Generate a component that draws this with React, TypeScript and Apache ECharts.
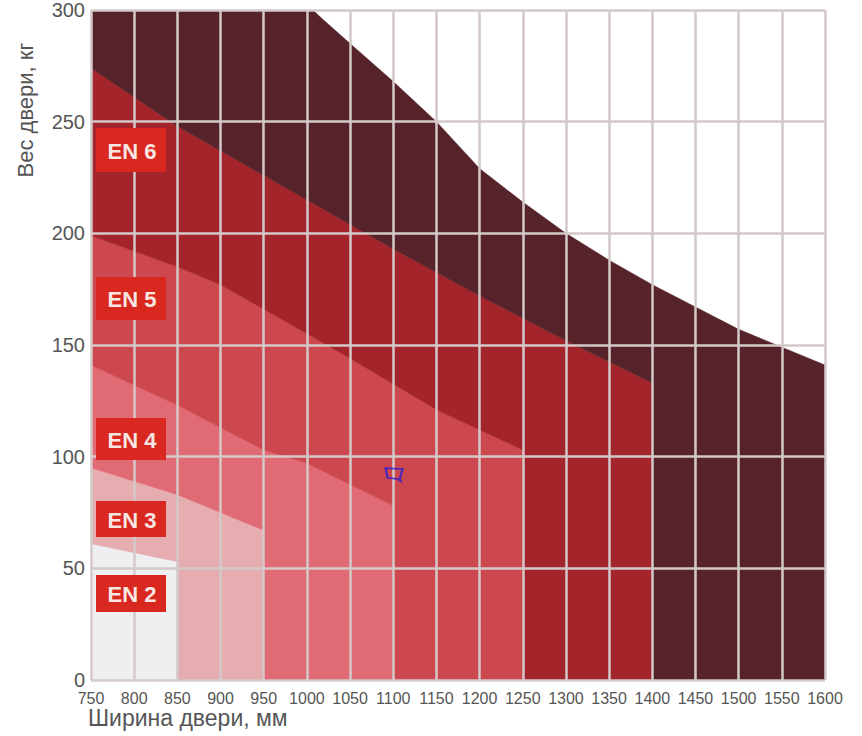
import React, { useEffect, useRef } from "react";
import * as echarts from "echarts";

// X ticks (door width, mm) and Y ticks (door weight, kg)
const xTicks = [750, 800, 850, 900, 950, 1000, 1050, 1100, 1150, 1200, 1250, 1300, 1350, 1400, 1450, 1500, 1550, 1600];
const yTicks = [0, 50, 100, 150, 200, 250, 300];

// Upper boundary of each class zone, [width, weight]
const en2Top = [[750, 61], [850, 53]];
const en3Top = [[750, 95], [850, 83], [950, 67]];
const en4Top = [[750, 141], [850, 123], [950, 103], [1000, 97], [1100, 78]];
const en5Top = [[750, 199], [850, 185], [900, 177], [950, 166], [1000, 155], [1050, 144], [1150, 121], [1250, 103]];
const en6Top = [[750, 274], [850, 248], [950, 226], [1050, 204], [1100, 193], [1200, 172], [1300, 152], [1400, 133]];
const en7Top = [[750, 300], [1007, 300], [1018, 296], [1050, 285], [1100, 268], [1150, 250], [1200, 229], [1250, 214], [1300, 200], [1350, 188], [1400, 177], [1450, 167], [1500, 157], [1550, 149], [1600, 141]];

const zoneNames = ["EN 2", "EN 3", "EN 4", "EN 5", "EN 6", "EN 7"];
const zoneTops = [en2Top, en3Top, en4Top, en5Top, en6Top, en7Top];
const zoneColors = ["#efeff1", "#e6adb1", "#e16b74", "#cd474e", "#a3252b", "#56232a"];

// Label boxes shown on the left
const boxLabels = ["EN 6", "EN 5", "EN 4", "EN 3", "EN 2"];

// Blue hand-drawn marker
const marker = [[1101, 92]];

function buildPolygons(): number[][][] {
  const polys: number[][][] = [];
  let prev: number[][] = [[750, 0]];
  zoneTops.forEach((top) => {
    const prevEnd = prev[prev.length - 1][0];
    const end = top[top.length - 1][0];
    const pts: number[][] = [];
    prev.forEach((p) => pts.push(p));
    pts.push([prevEnd, 0]);
    pts.push([end, 0]);
    for (let i = top.length - 1; i >= 0; i--) pts.push(top[i]);
    polys.push(pts);
    prev = top;
  });
  return polys;
}

const FONT = "'Liberation Sans', Arial, sans-serif";

export default function App() {
  const ref = useRef<HTMLDivElement>(null);
  useEffect(() => {
    if (!ref.current) return;
    const chart = echarts.init(ref.current, null, { renderer: "svg" });
    const polys = buildPolygons();

    const boxes = [
      { y: 128, h: 44 },
      { y: 277, h: 43 },
      { y: 418, h: 42 },
      { y: 501, h: 36 },
      { y: 575, h: 37 },
    ];
    const graphics: any[] = [];
    boxLabels.forEach((t, i) => {
      const b = boxes[i];
      graphics.push({
        type: "rect",
        z: 20,
        shape: { x: 96, y: b.y, width: 70, height: b.h },
        style: { fill: "#d8281f" },
      });
      graphics.push({
        type: "text",
        z: 21,
        x: 132,
        y: b.y + b.h / 2 + 1,
        style: {
          text: t,
          fill: "#f8e6e2",
          font: `bold 22px ${FONT}`,
          align: "center",
          verticalAlign: "middle",
        },
      });
    });
    graphics.push({
      type: "text",
      x: 88,
      y: 718,
      style: {
        text: "Ширина двери, мм",
        fill: "#555",
        font: `23px ${FONT}`,
        align: "left",
        verticalAlign: "middle",
      },
    });
    graphics.push({
      type: "text",
      x: 25,
      y: 110,
      rotation: Math.PI / 2,
      style: {
        text: "Вес двери, кг",
        fill: "#555",
        font: `22px ${FONT}`,
        align: "center",
        verticalAlign: "middle",
      },
    });

    chart.setOption({
      animation: false,
      backgroundColor: "#ffffff",
      grid: { left: 91, right: 37, top: 3, bottom: 56, containLabel: false },
      xAxis: {
        type: "value",
        min: xTicks[0],
        max: xTicks[xTicks.length - 1],
        interval: 50,
        z: 5,
        axisLine: { show: false },
        axisTick: { show: false },
        axisLabel: {
          color: "#555",
          fontSize: 16,
          fontFamily: FONT,
          margin: 10,
          showMinLabel: true,
          showMaxLabel: true,
          formatter: (v: number) => String(v),
        },
        splitLine: { show: true, lineStyle: { color: "#d3c9c9", width: 2.5 } },
      },
      yAxis: {
        type: "value",
        min: yTicks[0],
        max: yTicks[yTicks.length - 1],
        interval: 50,
        z: 5,
        axisLine: { show: false },
        axisTick: { show: false },
        axisLabel: { color: "#555", fontSize: 20, fontFamily: FONT, margin: 6, formatter: (v: number) => String(v) },
        splitLine: { show: true, lineStyle: { color: "#d3c9c9", width: 2.5 } },
      },
      series: [
        {
          type: "custom",
          name: "zones",
          clip: true,
          z: 2,
          data: zoneNames.map((n, i) => ({ name: n, value: [i] })),
          renderItem: (params: any, api: any) => {
            const idx = params.dataIndex;
            const pts = polys[idx].map((p) => api.coord(p));
            return {
              type: "polygon",
              shape: { points: pts },
              style: { fill: zoneColors[idx], stroke: zoneColors[idx], lineWidth: 0.5 },
            };
          },
        },
        {
          type: "scatter",
          z: 10,
          data: marker,
          symbol: "path://M0,0 L18,1 L15,10 L16,12 L12,10 L2,9 Z",
          symbolSize: [17, 13],
          itemStyle: { color: "rgba(0,0,0,0)", borderColor: "#2a1fd6", borderWidth: 2 },
        },
      ],
      graphic: graphics,
    });
    return () => chart.dispose();
  }, []);
  return <div ref={ref} style={{ position: "absolute", left: 0, top: 0, width: 862, height: 736 }} />;
}
